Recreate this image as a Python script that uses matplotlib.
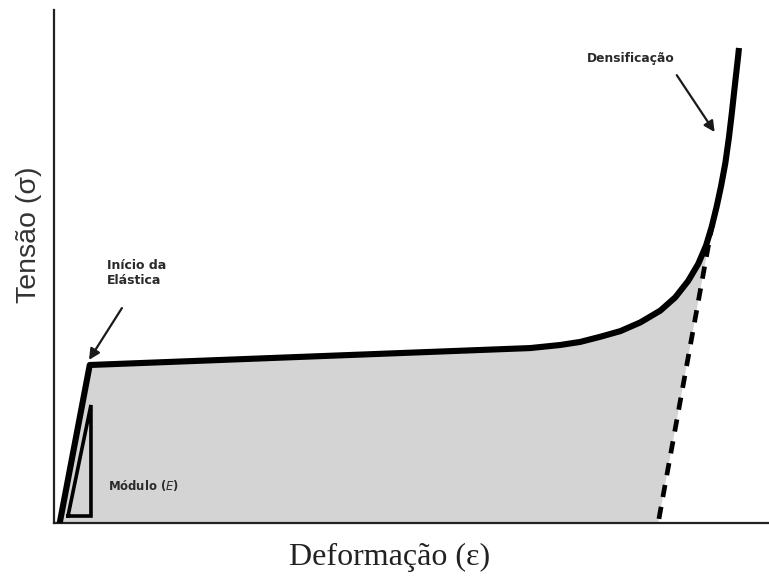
import matplotlib
matplotlib.use("Agg")
import matplotlib.pyplot as plt
from matplotlib.patches import Polygon

# ---- data (normalised strain / stress) ----
strain = [0.008, 0.050, 0.666, 0.708, 0.736, 0.764, 0.792, 0.820, 0.848,
          0.869, 0.887, 0.901, 0.912, 0.920, 0.927, 0.933, 0.939, 0.944,
          0.948, 0.952, 0.957, 0.958]
stress = [0.000, 0.308, 0.341, 0.347, 0.353, 0.363, 0.374, 0.391, 0.414,
          0.440, 0.472, 0.505, 0.541, 0.578, 0.618, 0.657, 0.702, 0.752,
          0.799, 0.850, 0.912, 0.926]

# unloading (dashed) line, drawn from the curve down to the axis
unload_strain = [0.921, 0.845]
unload_stress = [0.585, 0.000]

# modulus triangle
tri_strain = [0.0196, 0.0517, 0.0517, 0.0196]
tri_stress = [0.0136, 0.0136, 0.230, 0.0136]

xlabel = "Deformação (ε)"
ylabel = "Tensão (σ)"
label_start = "Início da\nElástica"
label_dens = "Densificação"
label_mod = "Módulo ($\\it{E}$)"

fig = plt.figure(figsize=(7.69, 5.79), dpi=100)
ax = fig.add_axes([54/769, 56/579, 715/769, 513/579])
ax.set_xlim(0, 1)
ax.set_ylim(0, 1)

# grey area under curve up to the unloading line
keep = [i for i, s in enumerate(strain) if s <= 0.920]
fill_x = [strain[i] for i in keep] + [unload_strain[-1]]
fill_y = [stress[i] for i in keep] + [unload_stress[-1]]
ax.add_patch(Polygon(list(zip(fill_x, fill_y)), closed=True,
                     facecolor="#d4d4d4", edgecolor="none", zorder=1))

ax.plot(strain, stress, color="black", lw=4.4, solid_joinstyle="round",
        solid_capstyle="butt", zorder=3)
ax.plot(unload_strain, unload_stress, color="black", lw=3.4,
        dashes=(2.6, 2.1), zorder=2)
ax.plot(tri_strain, tri_stress, color="black", lw=2.6,
        solid_joinstyle="miter", zorder=3)

txtc = "#2a2a2a"
ax.annotate("", xy=(0.049, 0.318), xytext=(0.095, 0.419),
            arrowprops=dict(arrowstyle="-|>", lw=1.6, color="#1a1a1a",
                            mutation_scale=16, shrinkA=0, shrinkB=0))
ax.annotate("", xy=(0.924, 0.762), xytext=(0.871, 0.873),
            arrowprops=dict(arrowstyle="-|>", lw=1.6, color="#1a1a1a",
                            mutation_scale=16, shrinkA=0, shrinkB=0))
ax.text(0.074, 0.487, label_start, fontsize=9, fontweight="bold",
        color=txtc, ha="left", va="center", linespacing=1.15,
        family="DejaVu Sans")
ax.text(0.745, 0.906, label_dens, fontsize=8.8, fontweight="bold",
        color=txtc, ha="left", va="center", family="DejaVu Sans")
ax.text(0.0755, 0.074, label_mod, fontsize=8.4, fontweight="bold",
        color=txtc, ha="left", va="center", family="DejaVu Sans")

ax.set_xticks([])
ax.set_yticks([])
for s in ("top", "right"):
    ax.spines[s].set_visible(False)
for s in ("left", "bottom"):
    ax.spines[s].set_linewidth(1.6)
    ax.spines[s].set_color("#222222")

fig.text(29/769, 1 - 235/579, ylabel, rotation=90, ha="center", va="center",
         fontsize=20.5, color="#333333", family="Liberation Sans")
fig.text(390/769, 1 - 557/579, xlabel, ha="center", va="center",
         fontsize=23, color="#222222", family="Liberation Serif")

fig.savefig("out.png", dpi=100)
